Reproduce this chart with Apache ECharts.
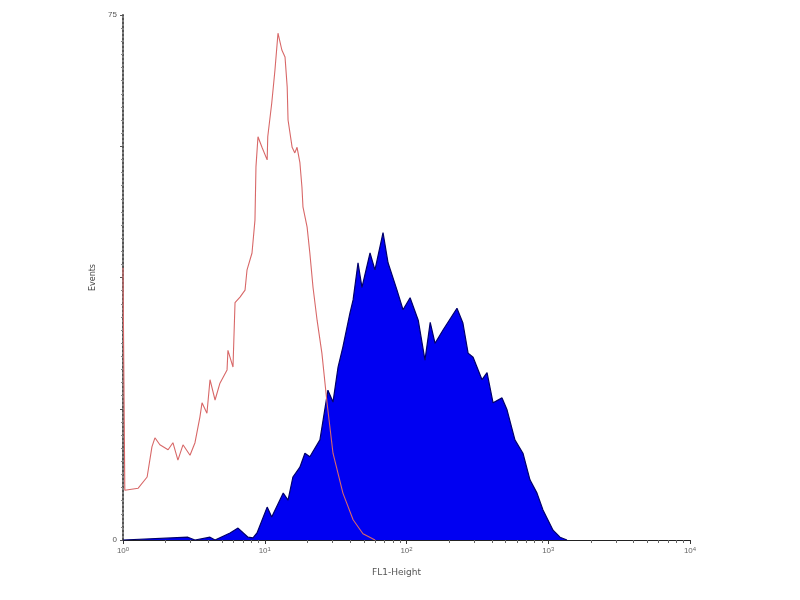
<!DOCTYPE html>
<html lang="en">
  <head>
    <meta charset="UTF-8" />
    <title>FL1-Height histogram</title>
    <style>
      * {
        margin: 0;
        padding: 0;
      }
      html,
      body {
        width: 100%;
        height: 100%;
        background: #fff;
      }
      #chart {
        width: 800px;
        height: 600px;
      }
    </style>
    <script src="https://cdn.jsdelivr.net/npm/echarts@6/dist/echarts.min.js"></script>
  </head>
  <body>
    <div id="chart"></div>
    <script>
      // 对照（红线）: [FL1-Height, Events]
      var controlData = [
        [1.0, 38.9], [1.03, 7.1], [1.28, 7.4], [1.48, 9.0], [1.6, 13.3],
        [1.68, 14.6], [1.82, 13.6], [2.08, 12.9], [2.25, 13.9], [2.44, 11.4],
        [2.65, 13.6], [2.97, 12.1], [3.22, 13.9], [3.49, 17.6], [3.61, 19.6],
        [3.91, 18.1], [4.11, 22.9], [4.46, 20.0], [4.83, 22.4], [5.42, 24.3],
        [5.5, 27.1], [5.97, 24.7], [6.17, 33.9], [6.69, 34.7], [7.26, 35.7],
        [7.5, 38.6], [8.13, 41.0], [8.53, 45.7], [8.67, 53.3], [8.96, 57.6],
        [9.56, 56.1], [10.4, 54.3], [10.5, 57.6], [11.2, 62.4], [11.8, 67.1],
        [12.4, 72.4], [13.2, 70.0], [13.9, 69.0], [14.4, 64.7], [14.6, 60.0],
        [15.6, 56.1], [16.3, 55.3], [16.9, 56.1], [17.7, 53.9], [18.3, 50.4],
        [18.6, 47.6], [19.9, 44.7], [20.8, 41.0], [21.9, 36.1], [23.4, 31.4],
        [25.3, 26.7], [27.5, 19.6], [30.3, 12.4], [35.6, 6.7], [42.0, 2.9],
        [49.3, 0.9], [60, 0]
      ];
      // 样本（蓝色填充）
      var sampleData = [
        [1.0, 0], [2.87, 0.4], [3.22, 0], [4.11, 0.4], [4.46, 0], [5.69, 1.0],
        [6.48, 1.7], [7.62, 0.4], [8.26, 0.3], [8.82, 1.0], [10.4, 4.7],
        [11.2, 3.3], [13.5, 6.7], [14.6, 5.7], [15.8, 9.0], [17.7, 10.4],
        [19.2, 12.4], [20.8, 11.9], [24.5, 14.3], [27.9, 21.4], [30.3, 19.7],
        [32.9, 24.7], [35.6, 27.6], [39.9, 32.4], [42.0, 34.3], [45.5, 39.6],
        [48.5, 36.1], [55.3, 41.0], [59.9, 38.6], [68.3, 43.9], [74.1, 39.6],
        [85.7, 35.7], [94.5, 32.9], [106, 34.6], [121, 31.4], [135, 25.7],
        [147, 31.1], [159, 28.1], [181, 30.0], [227, 33.1], [250, 31.0],
        [272, 26.7], [295, 26.1], [341, 22.9], [370, 23.9], [408, 19.6],
        [472, 20.3], [512, 18.6], [582, 14.3], [663, 12.4], [743, 8.6],
        [833, 6.7], [918, 4.3], [1081, 1.4], [1211, 0.4], [1356, 0]
      ];
      var yMax = 75;

      var chart = echarts.init(document.getElementById("chart"));
      var option = {
        backgroundColor: "#fff",
        animation: false,
        grid: { left: 123, right: 110, top: 15, bottom: 60 },
        xAxis: {
          type: "log",
          logBase: 10,
          min: 1,
          max: 10000,
          name: "FL1-Height",
          nameLocation: "middle",
          nameGap: 28,
          nameTextStyle: { color: "#555", fontSize: 9, fontFamily: "DejaVu Sans", padding: [0, 20, 0, 0] },
          axisLine: { lineStyle: { color: "#222", width: 1 } },
          axisTick: { length: 4, lineStyle: { color: "#333" } },
          minorTick: { show: true, splitNumber: 9, length: 3, lineStyle: { color: "#666" } },
          splitLine: { show: false },
          axisLabel: {
            color: "#666",
            fontSize: 8,
            margin: 6,
            formatter: function (v) {
              return "10{s|" + Math.round(Math.log10(v)) + "}";
            },
            rich: { s: { fontSize: 6, verticalAlign: "top", padding: [0, 0, 4, 0] } }
          }
        },
        yAxis: {
          type: "value",
          min: 0,
          max: yMax,
          interval: yMax / 4,
          name: "Events",
          nameLocation: "middle",
          nameGap: 14,
          nameRotate: 90,
          nameTextStyle: { color: "#444", fontSize: 8, fontFamily: "DejaVu Sans" },
          axisLine: { show: true, lineStyle: { color: "#555", width: 2, type: "dotted" } },
          axisTick: { show: true, length: 3, lineStyle: { color: "#555" } },
          minorTick: { show: true, splitNumber: 10, length: 2, lineStyle: { color: "#888" } },
          splitLine: { show: false },
          axisLabel: {
            color: "#555",
            fontSize: 8,
            margin: 6,
            formatter: function (v) {
              return v === 0 || v === yMax ? String(v) : "";
            }
          }
        },
        series: [
          {
            name: "Sample",
            type: "line",
            data: sampleData,
            showSymbol: false,
            symbol: "none",
            z: 2,
            lineStyle: { color: "#00006a", width: 1.2 },
            areaStyle: { color: "#0000f2", opacity: 1 }
          },
          {
            name: "Control",
            type: "line",
            data: controlData,
            showSymbol: false,
            symbol: "none",
            z: 3,
            lineStyle: { color: "#d86868", width: 1.1 }
          }
        ]
      };
      chart.setOption(option);
    </script>
  </body>
</html>
